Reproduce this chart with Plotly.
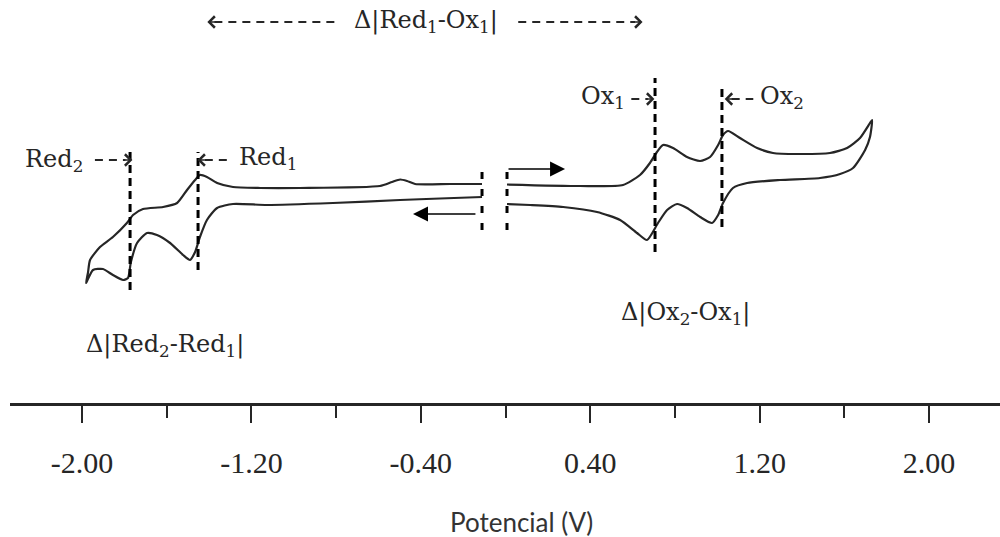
import plotly.graph_objects as go

# ---------------- data ----------------
# Potential in V, current in arbitrary units (no current axis is shown)
# Positive loop: scan starts near 0 V, goes positive, turns at ~1.73 V, returns
anodic_E = [0.007, 0.352, 0.555, 0.635, 0.682, 0.715, 0.744, 0.791, 0.857, 0.919, 0.966, 1.004,
            1.027, 1.051, 1.107, 1.188, 1.263, 1.377, 1.532, 1.613, 1.674, 1.721, 1.731,
            1.721, 1.698, 1.641, 1.580, 1.485, 1.296, 1.141, 1.074, 1.027, 1.004, 0.975, 0.919,
            0.857, 0.810, 0.763, 0.720, 0.668, 0.621, 0.541, 0.432, 0.272, 0.116, 0.007]
anodic_I = [21.85, 21.7, 21.8, 22.8, 24.0, 25.1, 25.8, 25.5, 24.6, 24.2, 24.6, 25.8,
            26.8, 27.2, 26.5, 25.5, 25.0, 24.9, 25.0, 25.5, 26.5, 28.0, 28.3,
            26.6, 25.3, 23.5, 22.9, 22.5, 22.3, 22.0, 21.5, 20.0, 18.8, 18.0, 18.6,
            19.5, 19.9, 19.3, 18.0, 16.3, 17.0, 18.3, 19.1, 19.6, 19.8, 19.9]

# Negative loop: continues from ~0 V towards negative potentials, turns at ~-1.98 V, returns
cathodic_E = [-0.111, -0.309, -0.498, -0.815, -1.126, -1.287, -1.362, -1.410, -1.443, -1.466,
              -1.490, -1.523, -1.584, -1.646, -1.693, -1.740, -1.769, -1.783, -1.806, -1.854,
              -1.901, -1.948, -1.976, -1.981,
              -1.972, -1.962, -1.915, -1.854, -1.788, -1.759, -1.712, -1.617, -1.551, -1.504,
              -1.466, -1.443, -1.410, -1.362, -1.287, -1.159, -0.970, -0.593, -0.536, -0.498,
              -0.465, -0.427, -0.262, -0.111]
cathodic_I = [20.6, 20.45, 20.3, 20.0, 19.8, 19.9, 19.5, 18.3, 16.6, 15.1,
              14.3, 14.8, 16.0, 16.8, 17.0, 16.0, 14.1, 12.5, 12.3, 12.8,
              13.4, 13.3, 12.2, 12.0,
              13.0, 14.3, 15.6, 16.6, 18.0, 18.8, 19.4, 19.6, 20.0, 21.3,
              22.3, 22.8, 22.6, 22.0, 21.6, 21.5, 21.5, 21.7, 22.1, 22.35,
              22.2, 21.9, 21.9, 21.9]

# Peak potentials marked with dashed lines
peak_names = ["Red2", "Red1", "Ox1", "Ox2"]
peak_E = [-1.773, -1.452, 0.706, 1.022]

# Axis ticks
major_ticks = [-2.0, -1.2, -0.4, 0.4, 1.2, 2.0]
major_labels = ["-2.00", "-1.20", "-0.40", "0.40", "1.20", "2.00"]
minor_ticks = [-1.6, -0.8, 0.0, 0.8, 1.6]
break_E = [-0.111, 0.007]
x_title = "Potencial (V)"

# ---------------- figure ----------------
INK = "#262626"
SERIF = "Liberation Serif"
LABEL_FONT = dict(family="DejaVu Serif", size=24, color=INK)

fig = go.Figure()
for E, I in [(anodic_E, anodic_I), (cathodic_E, cathodic_I)]:
    fig.add_trace(go.Scatter(x=E, y=I, mode="lines",
                             line=dict(color=INK, width=2.2, shape="spline", smoothing=0.6),
                             hoverinfo="skip", showlegend=False))

# dashed peak lines: (bottom, top) in current units
peak_span = {"Red2": (11.3, 25.1), "Red1": (13.3, 25.1), "Ox1": (15.1, 32.5), "Ox2": (17.6, 31.6)}
for name, e in zip(peak_names, peak_E):
    y0, y1 = peak_span[name]
    fig.add_shape(type="line", x0=e, x1=e, y0=y0, y1=y1,
                  line=dict(color="black", width=3, dash="8px,5px"))

# axis break marks
for e in break_E:
    fig.add_shape(type="line", x0=e, x1=e, y0=17.3, y1=24.0,
                  line=dict(color="black", width=3, dash="7px,10px"))

def dashed(x0, x1, y):
    fig.add_shape(type="line", x0=x0, x1=x1, y0=y, y1=y,
                  line=dict(color=INK, width=2, dash="8px,6px"))

def head(x, y, direction):
    fig.add_annotation(x=x, y=y, ax=-9 * direction, ay=0, text="", showarrow=True,
                       arrowhead=4, arrowsize=1.3, arrowwidth=1.7, arrowcolor=INK)

def label(x, y, text, anchor):
    fig.add_annotation(x=x, y=y, text=text, showarrow=False, xanchor=anchor, yanchor="middle",
                       font=LABEL_FONT)

# Red2 - - ->
label(-2.28, 24.3, "Red<sub>2</sub>", "left")
dashed(-1.939, -1.795, 24.3)
head(-1.762, 24.3, 1)
# <- - Red1
head(-1.455, 24.3, -1)
dashed(-1.420, -1.292, 24.3)
label(-1.270, 24.5, "Red<sub>1</sub>", "left")
# Ox1 - - ->
label(0.572, 30.6, "Ox<sub>1</sub>", "right")
dashed(0.594, 0.672, 30.4)
head(0.703, 30.4, 1)
# <- -Ox2
head(1.035, 30.4, -1)
dashed(1.068, 1.170, 30.4)
label(1.192, 30.6, "Ox<sub>2</sub>", "left")
# top span
head(-1.408, 38.1, -1)
dashed(-1.375, -0.808, 38.1)
fig.add_annotation(x=-0.375, y=38.2, text="Δ|Red<sub>1</sub>-Ox<sub>1</sub>|", showarrow=False,
                   font=LABEL_FONT)
dashed(0.060, 0.612, 38.1)
head(0.647, 38.1, 1)

fig.add_annotation(x=0.852, y=9.0, text="Δ|Ox<sub>2</sub>-Ox<sub>1</sub>|", showarrow=False,
                   font=LABEL_FONT)
fig.add_annotation(x=-1.608, y=5.8, text="Δ|Red<sub>2</sub>-Red<sub>1</sub>|", showarrow=False,
                   font=LABEL_FONT)

# scan direction arrows
fig.add_annotation(x=0.281, y=23.4, ax=0.007, ay=23.4, axref="x", ayref="y", text="",
                   showarrow=True, arrowhead=2, arrowsize=2, arrowwidth=1.5, arrowcolor="black")
fig.add_annotation(x=-0.437, y=18.9, ax=-0.135, ay=18.9, axref="x", ayref="y", text="",
                   showarrow=True, arrowhead=2, arrowsize=2, arrowwidth=1.5, arrowcolor="black")

# x title
fig.add_annotation(xref="paper", yref="paper", x=0.517, y=-0.295, text=x_title, showarrow=False,
                   yanchor="middle", font=dict(family="Lato", size=26, color="#333333"))

fig.update_layout(
    width=1000, height=537, margin=dict(l=10, r=0, t=0, b=134),
    paper_bgcolor="white", plot_bgcolor="white",
    xaxis=dict(range=[-2.34, 2.335], showgrid=False, zeroline=False,
               showline=True, linecolor=INK, linewidth=2.5,
               ticks="outside", ticklen=17, tickwidth=2, tickcolor=INK,
               tickvals=major_ticks, ticktext=major_labels, ticklabelstandoff=14,
               tickfont=dict(family=SERIF, size=30, color=INK),
               minor=dict(tickvals=minor_ticks, ticks="outside", ticklen=12, tickwidth=2,
                          tickcolor=INK, showgrid=False)),
    yaxis=dict(range=[0, 40.3], visible=False, showgrid=False, zeroline=False),
)

fig.write_html("out.html")
